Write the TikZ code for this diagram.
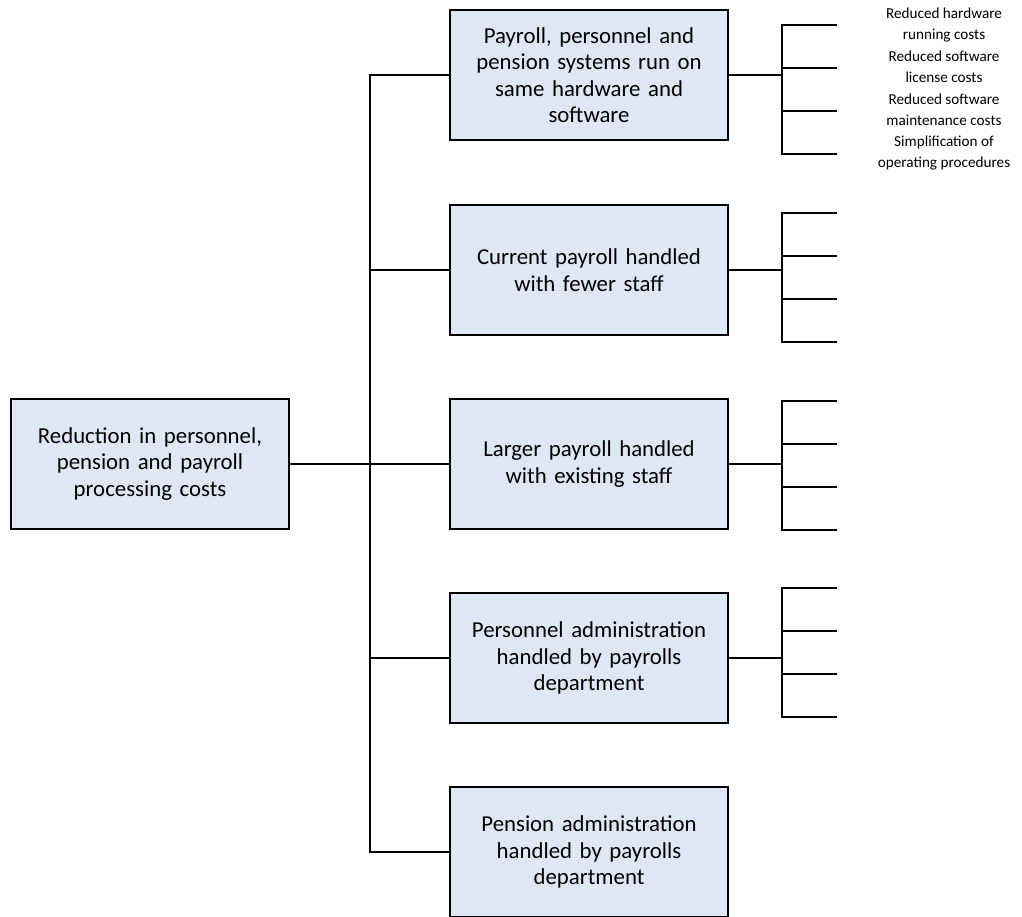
\documentclass[tikz,border=0pt]{standalone}
\usepackage{fontspec}
\setmainfont{Carlito}
\usetikzlibrary{positioning, calc}
\definecolor{boxblue}{RGB}{221,232,244}
\tikzset{
	goal/.style={rectangle, draw=black, fill=boxblue, line width=1.6pt, minimum width=278pt, minimum height=130pt, text width=270pt, align=center, inner sep=0pt, font=\fontsize{22.8}{26.5}\selectfont},
	benefit/.style={align=center, inner sep=0pt, font=\fontsize{15.2}{21}\selectfont},
	line/.style={draw, line width=1.6pt}
}

\begin{document}
\begin{tikzpicture}[x=1pt, y=-1pt]
	\useasboundingbox (0,0) rectangle (1022,916);
	% Root
	\node[goal] (R) at (150,464) {Reduction in personnel,\\ pension and payroll\\ processing costs};
	
	% Sub goals
	\node[goal] (C-1) at (589,75) {Payroll, personnel and\\ pension systems run on\\ same hardware and\\ software};
	\node[goal] (C-2) at (589,270) {Current payroll handled\\ with fewer staff};
	\node[goal] (C-3) at (589,464) {Larger payroll handled\\ with existing staff};
	\node[goal] (C-4) at (589,658) {Personnel administration\\ handled by payrolls\\ department};
	\node[goal] (C-5) at (589,852) {Pension administration\\ handled by payrolls\\ department};
	
	% Benefits
	\node[benefit] (L-1) at (944,25) {Reduced hardware\\ running costs};
	\node[benefit] (L-2) at (944,67) {Reduced software\\ license costs};
	\node[benefit] (L-3) at (944,110) {Reduced software\\ maintenance costs};
	\node[benefit] (L-4) at (944,153) {Simplification of\\ operating procedures};
	
	% Trunk
	\foreach \i/\y in {1/75,2/270,3/464,4/658,5/852}
	\coordinate (T-\i) at (370,\y);
	\draw[line] (R.east) -- (T-3);
	\draw[line] (C-1.west) -- (T-1) -- (T-5) -- (C-5.west);
	\foreach \i in {2,...,4}
	\draw[line] (T-\i) -- (C-\i.west);
	
	% Brackets on the right
	\foreach \i/\ty in {1/25,2/213,3/401,4/588} {
		\foreach \k in {0,...,3} {
			\coordinate (S-\i-\k) at (782,{\ty+43*\k});
			\coordinate (E-\i-\k) at (837,{\ty+43*\k});
		}
		\draw[line] (E-\i-0) -- (S-\i-0) -- (S-\i-3) -- (E-\i-3);
		\draw[line] (S-\i-1) -- (E-\i-1);
		\draw[line] (S-\i-2) -- (E-\i-2);
		\draw[line] (C-\i.east) -- (C-\i.east -| S-\i-0);
	}
\end{tikzpicture}
\end{document}
